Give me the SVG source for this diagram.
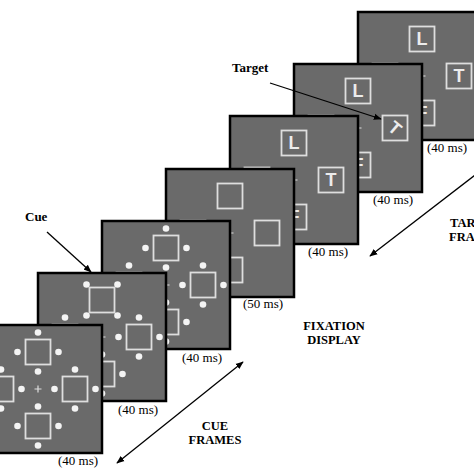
<svg xmlns="http://www.w3.org/2000/svg" width="474" height="474" viewBox="0 0 474 474">
<style>
.pan{fill:#6a6a6a;stroke:#000;stroke-width:2.5}
.sq{fill:none;stroke:#dedede;stroke-width:1.8}
.fx{stroke:#dedede;stroke-width:1.2;fill:none}
.dot{fill:#f4f4f4}
.let{font-family:"Liberation Sans",Arial,sans-serif;font-weight:bold;font-size:18px;fill:#ececec;text-anchor:middle}
.ms{font-family:"Liberation Serif","Times New Roman",serif;font-size:13px;fill:#000}
.lbl{font-family:"Liberation Serif","Times New Roman",serif;font-size:13px;font-weight:bold;fill:#000}
.two{font-size:12.5px}
.mid{text-anchor:middle}
.arr{stroke:#000;stroke-width:1.3;fill:none}
</style>
<defs>
<marker id="ah" viewBox="0 0 10 10" refX="9" refY="5" markerWidth="8" markerHeight="8" orient="auto-start-reverse" markerUnits="userSpaceOnUse"><path d="M0,1 L10,5 L0,9 z" fill="#000"/></marker>
<g id="base">
<rect class="pan" x="0" y="0" width="128" height="128"/>
<rect class="sq" x="51.5" y="14.5" width="25" height="25"/>
<rect class="sq" x="88.5" y="51.5" width="25" height="25"/>
<rect class="sq" x="51.5" y="88.5" width="25" height="25"/>
<rect class="sq" x="14.5" y="51.5" width="25" height="25"/>
<path class="fx" d="M60.5,64h7M64,60.5v7"/>
</g>
<g id="sd">
<circle class="dot" cx="0" cy="-19.5" r="3.3"/>
<circle class="dot" cx="-20.5" cy="0" r="3.3"/>
<circle class="dot" cx="20.5" cy="0" r="3.3"/>
<circle class="dot" cx="0" cy="19.5" r="3.3"/>
</g>
<g id="cd">
<circle class="dot" cx="-15.5" cy="-15.5" r="3.3"/>
<circle class="dot" cx="15.5" cy="-15.5" r="3.3"/>
<circle class="dot" cx="-15.5" cy="15.5" r="3.3"/>
<circle class="dot" cx="15.5" cy="15.5" r="3.3"/>
</g>
</defs>

<g id="frame-7" transform="translate(358,12)">
<use href="#base"/>
<text class="let" x="64" y="33.4">L</text>
<text class="let" x="101" y="70.4">T</text>
<text class="let" x="64" y="107.4">F</text>
</g>
<g id="frame-6" transform="translate(294,64)">
<use href="#base"/>
<text class="let" x="64" y="33.4">L</text>
<text class="let" x="101" y="70.4" transform="rotate(40 101 64)">T</text>
<text class="let" x="64" y="107.4">F</text>
</g>
<g id="frame-5" transform="translate(230,116)">
<use href="#base"/>
<text class="let" x="64" y="33.4">L</text>
<text class="let" x="101" y="70.4">T</text>
<text class="let" x="64" y="107.4">F</text>
</g>
<g id="frame-4" transform="translate(166,169)">
<use href="#base"/>
</g>
<g id="frame-3" transform="translate(102,221)">
<use href="#base"/>
<use href="#sd" x="64" y="27"/>
<use href="#sd" x="101" y="64"/>
<use href="#sd" x="64" y="101"/>
<use href="#sd" x="27" y="64"/>
</g>
<g id="frame-2" transform="translate(38,273)">
<use href="#base"/>
<use href="#cd" x="64" y="27"/>
<use href="#sd" x="101" y="64"/>
<use href="#sd" x="64" y="101"/>
<use href="#sd" x="27" y="64"/>
</g>
<g id="frame-1" transform="translate(-26,325)">
<use href="#base"/>
<use href="#sd" x="64" y="27"/>
<use href="#sd" x="101" y="64"/>
<use href="#sd" x="64" y="101"/>
<use href="#sd" x="27" y="64"/>
</g>

<g id="durations">
<text class="ms" x="58" y="465">(40 ms)</text>
<text class="ms" x="118" y="414">(40 ms)</text>
<text class="ms" x="182" y="362">(40 ms)</text>
<text class="ms" x="243" y="308">(50 ms)</text>
<text class="ms" x="308" y="256">(40 ms)</text>
<text class="ms" x="373" y="204">(40 ms)</text>
<text class="ms" x="427" y="152">(40 ms)</text>
</g>

<g id="labels">
<text class="lbl" x="25" y="221">Cue</text>
<text class="lbl" x="232" y="72">Target</text>
<text class="lbl two mid" x="334" y="329.5">FIXATION</text>
<text class="lbl two mid" x="334" y="343.5">DISPLAY</text>
<text class="lbl two mid" x="215" y="429.5">CUE</text>
<text class="lbl two mid" x="215" y="443.5">FRAMES</text>
<text class="lbl two" x="450" y="226.5">TARGET</text>
<text class="lbl two" x="449" y="240.5">FRAMES</text>
</g>

<g id="connectors">
<line class="arr" x1="47" y1="232" x2="91" y2="272" marker-end="url(#ah)"/>
<line class="arr" x1="270" y1="83" x2="381" y2="119" marker-end="url(#ah)"/>
<line class="arr" x1="117" y1="463" x2="243" y2="362" marker-start="url(#ah)" marker-end="url(#ah)"/>
<line class="arr" x1="370" y1="256" x2="492" y2="162" marker-start="url(#ah)" marker-end="url(#ah)"/>
</g>
</svg>
